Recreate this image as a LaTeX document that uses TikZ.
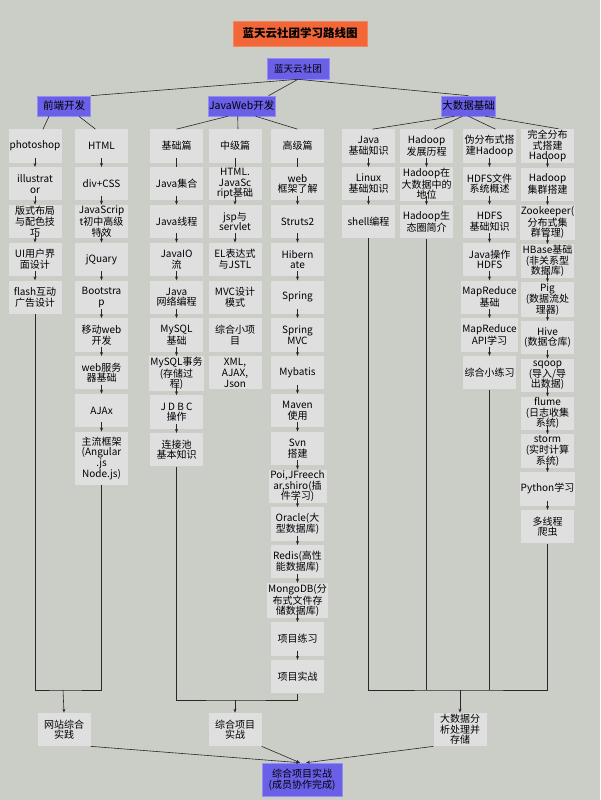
\documentclass[tikz,border=0pt]{standalone}
\usepackage{fontspec}
\setmainfont{Noto Sans CJK SC}
\usetikzlibrary{arrows.meta,positioning}
\definecolor{bggray}{RGB}{203,205,199}
\definecolor{boxgray}{RGB}{223,223,223}
\definecolor{lanblue}{RGB}{106,96,232}
\definecolor{lanedge}{RGB}{150,140,245}
\definecolor{titleorange}{RGB}{242,102,56}
\definecolor{linegray}{RGB}{40,40,40}

\begin{document}
\begin{tikzpicture}[x=1pt,y=-1pt,
        node distance=4.1pt,
        box/.style={fill=boxgray,minimum width=53pt,minimum height=33.3pt,
                    inner sep=1pt,align=center,font=\fontsize{10}{10.6}\selectfont},
        hdr/.style={fill=lanblue,draw=lanedge,line width=0.6pt,minimum height=20pt,
                    inner sep=1pt,align=center,font=\fontsize{10.5}{12}\selectfont},
        lnk/.style={linegray,line width=0.6pt},
        arr/.style={lnk,-{Stealth[length=4pt,width=3pt]}},
        stp/.style={arr,shorten <=-5pt},
        stl/.style={lnk,shorten <=-5pt},
      ]
        \useasboundingbox (0,0) rectangle (600,800);
        \fill[bggray] (0,0) rectangle (600,800);

        % title and top levels
        \node[fill=titleorange,draw=titleorange!80!white,minimum width=134pt,minimum height=25pt,
              font=\fontsize{11.5}{13}\selectfont\bfseries](ttl) at (300,33.5){蓝天云社团学习路线图};
        \node[hdr,minimum width=62pt,minimum height=21pt,font=\fontsize{9.6}{11}\selectfont]
          (root) at (298,68.5){蓝天云社团};
        \node[hdr,minimum width=53pt](fe) at (64,106){前端开发};
        \node[hdr,minimum width=66pt](jw) at (241.7,106){JavaWeb开发};
        \node[hdr,minimum width=53pt](bd) at (468.5,106){大数据基础};
        \draw[lnk](root.south)--(fe.north east);
        \draw[lnk](root.south)--([xshift=-7pt]jw.north east);
        \draw[lnk](root.south)--(bd.north);

        % front end
        \node[box](fa1) at (35,146){photoshop};
        \node[box,below=of fa1](fa2){illustrat\\or};
        \node[box,below=of fa2](fa3){版式布局\\与配色技\\巧};
        \node[box,below=of fa3](fa4){UI用户界\\面设计};
        \node[box,below=of fa4](fa5){flash互动\\广告设计};
        \node[box](fb1) at (101.5,146){HTML};
        \node[box,below=of fb1](fb2){div+CSS};
        \node[box,below=of fb2](fb3){JavaScrip\\t初中高级\\特效};
        \node[box,below=of fb3](fb4){jQuary};
        \node[box,below=of fb4](fb5){Bootstra\\p};
        \node[box,below=of fb5](fb6){移动web\\开发};
        \node[box,below=of fb6](fb7){web服务\\器基础};
        \node[box,below=of fb7](fb8){AJAx};
        \node[box,below=of fb8,minimum height=53pt](fb9){主流框架\\(Angular\\.js\\Node.js)};
        \draw[lnk]([xshift=-15pt]fe.south)--([xshift=8pt]fa1.north);
        \draw[lnk]([xshift=15pt]fe.south)--([xshift=-6pt]fb1.north);
        \draw[stp](fa1)--(fa2); \draw[stp](fa2)--(fa3); \draw[stp](fa3)--(fa4);
        \draw[stp](fa4)--(fa5);
        \draw[stp](fb1)--(fb2); \draw[stp](fb2)--(fb3); \draw[stp](fb3)--(fb4);
        \draw[stp](fb4)--(fb5); \draw[stp](fb5)--(fb6); \draw[stp](fb6)--(fb7);
        \draw[stp](fb7)--(fb8); \draw[stp](fb8)--(fb9);

        % javaweb
        \node[box](ja1) at (176.5,146){基础篇};
        \node[box,below=of ja1](ja2){Java集合};
        \node[box,below=of ja2](ja3){Java线程};
        \node[box,below=of ja3](ja4){JavaIO\\流};
        \node[box,below=of ja4](ja5){Java\\网络编程};
        \node[box,below=of ja5](ja6){MySQL\\基础};
        \node[box,below=of ja6](ja7){MySQL事务\\(存储过\\程)};
        \node[box,below=of ja7](ja8){J D B C\\操作};
        \node[box,below=of ja8](ja9){连接池\\基本知识};
        \node[box](jb1) at (235,146){中级篇};
        \node[box,below=of jb1](jb2){HTML.\\JavaSc\\ript基础};
        \node[box,below=of jb2](jb3){jsp与\\servlet};
        \node[box,below=of jb3](jb4){EL表达式\\与JSTL};
        \node[box,below=of jb4](jb5){MVC设计\\模式};
        \node[box,below=of jb5](jb6){综合小项\\目};
        \node[box,below=of jb6](jb7){XML,\\AJAX,\\Json};
        \node[box](jc1) at (297.5,146){高级篇};
        \node[box,below=of jc1](jc2){web\\框架了解};
        \node[box,below=of jc2](jc3){Struts2};
        \node[box,below=of jc3](jc4){Hibern\\ate};
        \node[box,below=of jc4](jc5){Spring};
        \node[box,below=of jc5](jc6){Spring\\MVC};
        \node[box,below=of jc6](jc7){Mybatis};
        \node[box,below=of jc7](jc8){Maven\\使用};
        \node[box,below=of jc8](jc9){Svn\\搭建};
        \node[box,below=of jc9,minimum width=58pt](jc10){Poi,JFreech\\ar,shiro(插\\件学习)};
        \node[box,below=of jc10](jc11){Oracle(大\\型数据库)};
        \node[box,below=of jc11](jc12){Redis(高性\\能数据库)};
        \node[box,below=of jc12](jc13){MongoDB(分\\布式文件存\\储数据库)};
        \node[box,below=of jc13](jc14){项目练习};
        \node[box,below=of jc14](jc15){项目实战};
        \draw[lnk]([xshift=-14pt]jw.south)--(ja1.north);
        \draw[lnk]([xshift=-4pt]jw.south)--([xshift=3pt]jb1.north);
        \draw[lnk]([xshift=14pt]jw.south)--(jc1.north);
        \draw[stl](ja1)--(ja2); \draw[stp](ja2)--(ja3); \draw[stp](ja3)--(ja4);
        \draw[stp](ja4)--(ja5); \draw[stp](ja5)--(ja6); \draw[stp](ja6)--(ja7);
        \draw[stp](ja7)--(ja8); \draw[stp](ja8)--(ja9);
        \draw[stl](jb1)--(jb2); \draw[stp](jb2)--(jb3); \draw[stp](jb3)--(jb4);
        \draw[stl](jc1)--(jc2); \draw[stp](jc2)--(jc3); \draw[stp](jc3)--(jc4);
        \draw[stp](jc4)--(jc5); \draw[stp](jc5)--(jc6); \draw[stp](jc6)--(jc7);
        \draw[stp](jc7)--(jc8); \draw[stp](jc8)--(jc9); \draw[stp](jc9)--(jc10);
        \draw[stp](jc10)--(jc11); \draw[stp](jc11)--(jc12); \draw[stp](jc12)--(jc13);
        \draw[stp](jc13)--(jc14); \draw[stp](jc14)--(jc15);

        % big data
        \node[box](da1) at (368.5,146){Java\\基础知识};
        \node[box,below=of da1](da2){Linux\\基础知识};
        \node[box,below=of da2](da3){shell编程};
        \node[box](db1) at (426.5,146){Hadoop\\发展历程};
        \node[box,below=of db1](db2){Hadoop在\\大数据中的\\地位};
        \node[box,below=of db2](db3){Hadoop生\\态圈简介};
        \node[box](dc1) at (489.5,146){伪分布式搭\\建Hadoop};
        \node[box,below=of dc1](dc2){HDFS文件\\系统概述};
        \node[box,below=of dc2](dc3){HDFS\\基础知识};
        \node[box,below=of dc3](dc4){Java操作\\HDFS};
        \node[box,below=of dc4](dc5){MapReduce\\基础};
        \node[box,below=of dc5](dc6){MapReduce\\API学习};
        \node[box,below=of dc6](dc7){综合小练习};
        \node[box](dd1) at (547.5,146){完全分布\\式搭建\\Hadoop};
        \node[box,below=of dd1](dd2){Hadoop\\集群搭建};
        \node[box,below=of dd2](dd3){Zookeeper(\\分布式集\\群管理)};
        \node[box,below=of dd3](dd4){HBase基础\\(非关系型\\数据库)};
        \node[box,below=of dd4](dd5){Pig\\(数据流处\\理器)};
        \node[box,below=of dd5](dd6){Hive\\(数据仓库)};
        \node[box,below=of dd6](dd7){sqoop\\(导入/导\\出数据)};
        \node[box,below=of dd7](dd8){flume\\(日志收集\\系统)};
        \node[box,below=of dd8](dd9){storm\\(实时计算\\系统)};
        \node[box,below=of dd9](dd10){Python学习};
        \node[box,below=of dd10](dd11){多线程\\爬虫};
        \draw[lnk]([xshift=-14pt]bd.south)--([xshift=4pt]da1.north);
        \draw[lnk]([xshift=-6pt]bd.south)--([xshift=8pt]db1.north);
        \draw[lnk](bd.south)--([xshift=6pt]dc1.north);
        \draw[lnk]([xshift=17pt]bd.south)--([xshift=11pt]dd1.north);
        \draw[stp](da1)--(da2); \draw[stp](da2)--(da3);
        \draw[stp](db1)--(db2); \draw[stp](db2)--(db3);
        \draw[stp](dc1)--(dc2); \draw[stp](dc2)--(dc3); \draw[stp](dc3)--(dc4);
        \draw[stp](dc4)--(dc5); \draw[stp](dc5)--(dc6); \draw[stp](dc6)--(dc7);
        \draw[stp](dd1)--(dd2); \draw[stp](dd2)--(dd3); \draw[stp](dd3)--(dd4);
        \draw[stp](dd4)--(dd5); \draw[stp](dd5)--(dd6); \draw[stp](dd6)--(dd7);
        \draw[stp](dd7)--(dd8); \draw[stp](dd8)--(dd9); \draw[stp](dd9)--(dd10);
        \draw[stp](dd10)--(dd11);

        % practice and final
        \node[box](fp) at (64,729.5){网站综合\\实践};
        \node[box](zh) at (235,729.5){综合项目\\实战};
        \node[box](dsj) at (460,729.5){大数据分\\析处理并\\存储};
        \node[hdr,minimum width=80pt,minimum height=33pt,font=\fontsize{10}{11}\selectfont]
          (fin) at (302,779.5){综合项目实战\\(成员协作完成)};
        \coordinate(fej) at (63,690);
        \coordinate(jwj) at (235,700);
        \coordinate(bdj) at (460,690);
        \draw[lnk](fa5.south)|-(fej)-|(fb9.south);
        \draw[arr](fej)--(fp.north);
        \draw[lnk](ja9.south)|-(jwj)-|(jc15.south);
        \draw[arr](jwj)--(zh.north);
        \draw[lnk](da3.south)|-(bdj)-|(dd11.south);
        \draw[lnk](db3.south)--(db3.south|-bdj);
        \draw[lnk](dc7.south)--(dc7.south|-bdj);
        \draw[arr](bdj)--(dsj.north);
        \draw[arr](fp.south east)--([xshift=-2pt]fin.north);
        \draw[arr](zh.south east)--([xshift=-2pt]fin.north);
        \draw[arr](dsj.south west)--([xshift=4pt]fin.north);
      \end{tikzpicture}
\end{document}
